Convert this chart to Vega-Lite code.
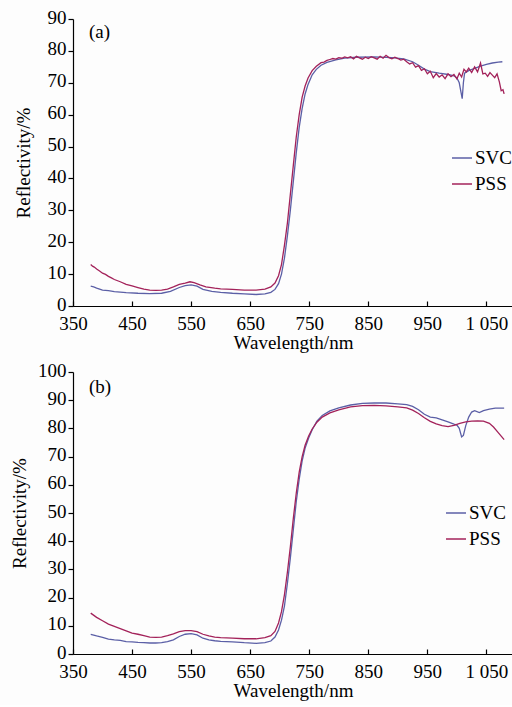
{
  "$schema": "https://vega.github.io/schema/vega-lite/v6.json",
  "background": "#fdfdfd",
  "padding": {"left": 10, "top": 8, "right": 0, "bottom": 5},
  "spacing": 9,
  "config": {
    "font": "Liberation Serif",
    "view": {"stroke": null},
    "axis": {"grid": false, "domainColor": "#000", "tickColor": "#000", "labelColor": "#000", "titleColor": "#000", "labelFontSize": 19, "titleFontSize": 19, "titleFontWeight": "normal", "labelFont": "Liberation Serif", "titleFont": "Liberation Serif", "domainWidth": 1.2, "tickWidth": 1.2, "labelOverlap": false, "labelFlush": false},
    "legend": {"labelFont": "Liberation Serif", "labelFontSize": 19, "labelColor": "#000", "symbolType": "stroke", "symbolStrokeWidth": 1.5, "symbolSize": 400, "rowPadding": 5, "labelOffset": 2}
  },
  "datasets": {
    "a": [
      {"w":380,"r":6.2,"s":"SVC"},{"w":385,"r":6.0,"s":"SVC"},{"w":390,"r":5.6,"s":"SVC"},{"w":400,"r":5.0,"s":"SVC"},{"w":410,"r":4.8,"s":"SVC"},{"w":420,"r":4.5,"s":"SVC"},{"w":440,"r":4.2,"s":"SVC"},{"w":460,"r":4.0,"s":"SVC"},{"w":480,"r":3.9,"s":"SVC"},{"w":500,"r":4.0,"s":"SVC"},{"w":515,"r":4.6,"s":"SVC"},{"w":530,"r":5.8,"s":"SVC"},{"w":540,"r":6.4,"s":"SVC"},{"w":550,"r":6.6,"s":"SVC"},{"w":560,"r":6.2,"s":"SVC"},{"w":570,"r":5.2,"s":"SVC"},{"w":585,"r":4.6,"s":"SVC"},{"w":600,"r":4.3,"s":"SVC"},{"w":620,"r":4.0,"s":"SVC"},{"w":640,"r":3.8,"s":"SVC"},{"w":660,"r":3.6,"s":"SVC"},{"w":675,"r":3.8,"s":"SVC"},{"w":685,"r":4.3,"s":"SVC"},{"w":692,"r":5.2,"s":"SVC"},{"w":698,"r":7.0,"s":"SVC"},{"w":703,"r":10,"s":"SVC"},{"w":708,"r":15,"s":"SVC"},{"w":713,"r":22,"s":"SVC"},{"w":718,"r":30,"s":"SVC"},{"w":723,"r":39,"s":"SVC"},{"w":728,"r":48,"s":"SVC"},{"w":733,"r":56,"s":"SVC"},{"w":738,"r":62,"s":"SVC"},{"w":743,"r":66.5,"s":"SVC"},{"w":748,"r":69.5,"s":"SVC"},{"w":755,"r":72.5,"s":"SVC"},{"w":762,"r":74.2,"s":"SVC"},{"w":770,"r":75.5,"s":"SVC"},{"w":780,"r":76.4,"s":"SVC"},{"w":795,"r":77.2,"s":"SVC"},{"w":810,"r":77.7,"s":"SVC"},{"w":830,"r":78,"s":"SVC"},{"w":860,"r":78.1,"s":"SVC"},{"w":890,"r":77.9,"s":"SVC"},{"w":910,"r":77.5,"s":"SVC"},{"w":925,"r":76.6,"s":"SVC"},{"w":935,"r":75.5,"s":"SVC"},{"w":945,"r":74.3,"s":"SVC"},{"w":955,"r":73.5,"s":"SVC"},{"w":970,"r":73,"s":"SVC"},{"w":985,"r":72.6,"s":"SVC"},{"w":995,"r":72.2,"s":"SVC"},{"w":1000,"r":71.5,"s":"SVC"},{"w":1004,"r":70,"s":"SVC"},{"w":1007,"r":67,"s":"SVC"},{"w":1009,"r":65,"s":"SVC"},{"w":1011,"r":70,"s":"SVC"},{"w":1013,"r":73,"s":"SVC"},{"w":1020,"r":73.8,"s":"SVC"},{"w":1030,"r":74.5,"s":"SVC"},{"w":1040,"r":75.2,"s":"SVC"},{"w":1050,"r":75.8,"s":"SVC"},{"w":1060,"r":76.2,"s":"SVC"},{"w":1070,"r":76.5,"s":"SVC"},{"w":1077,"r":76.6,"s":"SVC"},
      {"w":380,"r":13.0,"s":"PSS"},{"w":383,"r":12.5,"s":"PSS"},{"w":386,"r":12.2,"s":"PSS"},{"w":390,"r":11.6,"s":"PSS"},{"w":395,"r":11.0,"s":"PSS"},{"w":400,"r":10.3,"s":"PSS"},{"w":405,"r":9.9,"s":"PSS"},{"w":410,"r":9.3,"s":"PSS"},{"w":415,"r":8.8,"s":"PSS"},{"w":420,"r":8.3,"s":"PSS"},{"w":430,"r":7.6,"s":"PSS"},{"w":440,"r":6.8,"s":"PSS"},{"w":450,"r":6.3,"s":"PSS"},{"w":460,"r":5.8,"s":"PSS"},{"w":470,"r":5.3,"s":"PSS"},{"w":480,"r":5.0,"s":"PSS"},{"w":490,"r":4.9,"s":"PSS"},{"w":500,"r":5.0,"s":"PSS"},{"w":510,"r":5.3,"s":"PSS"},{"w":520,"r":6.0,"s":"PSS"},{"w":530,"r":6.8,"s":"PSS"},{"w":540,"r":7.2,"s":"PSS"},{"w":548,"r":7.6,"s":"PSS"},{"w":555,"r":7.3,"s":"PSS"},{"w":565,"r":6.6,"s":"PSS"},{"w":575,"r":6.0,"s":"PSS"},{"w":590,"r":5.6,"s":"PSS"},{"w":600,"r":5.4,"s":"PSS"},{"w":620,"r":5.2,"s":"PSS"},{"w":640,"r":5.0,"s":"PSS"},{"w":660,"r":5.0,"s":"PSS"},{"w":675,"r":5.3,"s":"PSS"},{"w":685,"r":6.0,"s":"PSS"},{"w":692,"r":7.2,"s":"PSS"},{"w":698,"r":9.5,"s":"PSS"},{"w":703,"r":13,"s":"PSS"},{"w":708,"r":19,"s":"PSS"},{"w":713,"r":26,"s":"PSS"},{"w":718,"r":35,"s":"PSS"},{"w":723,"r":44,"s":"PSS"},{"w":728,"r":53,"s":"PSS"},{"w":733,"r":60,"s":"PSS"},{"w":738,"r":65.5,"s":"PSS"},{"w":743,"r":69,"s":"PSS"},{"w":748,"r":71.5,"s":"PSS"},{"w":755,"r":73.8,"s":"PSS"},{"w":762,"r":75.2,"s":"PSS"},{"w":770,"r":76.3,"s":"PSS"},{"w":775,"r":76.5,"s":"PSS"},{"w":780,"r":77.0,"s":"PSS"},{"w":785,"r":77.3,"s":"PSS"},{"w":790,"r":77.6,"s":"PSS"},{"w":795,"r":77.4,"s":"PSS"},{"w":800,"r":77.9,"s":"PSS"},{"w":805,"r":77.7,"s":"PSS"},{"w":810,"r":78.1,"s":"PSS"},{"w":815,"r":77.8,"s":"PSS"},{"w":820,"r":78.2,"s":"PSS"},{"w":825,"r":77.5,"s":"PSS"},{"w":830,"r":78.3,"s":"PSS"},{"w":835,"r":77.8,"s":"PSS"},{"w":840,"r":77.4,"s":"PSS"},{"w":845,"r":78.0,"s":"PSS"},{"w":850,"r":77.6,"s":"PSS"},{"w":855,"r":78.2,"s":"PSS"},{"w":860,"r":77.8,"s":"PSS"},{"w":865,"r":77.4,"s":"PSS"},{"w":870,"r":78.3,"s":"PSS"},{"w":875,"r":77.7,"s":"PSS"},{"w":880,"r":78.6,"s":"PSS"},{"w":885,"r":77.9,"s":"PSS"},{"w":890,"r":77.5,"s":"PSS"},{"w":895,"r":78.0,"s":"PSS"},{"w":900,"r":77.6,"s":"PSS"},{"w":905,"r":77.1,"s":"PSS"},{"w":910,"r":77.4,"s":"PSS"},{"w":915,"r":76.6,"s":"PSS"},{"w":920,"r":75.9,"s":"PSS"},{"w":925,"r":76.3,"s":"PSS"},{"w":930,"r":74.9,"s":"PSS"},{"w":935,"r":75.4,"s":"PSS"},{"w":940,"r":73.9,"s":"PSS"},{"w":945,"r":74.4,"s":"PSS"},{"w":950,"r":72.8,"s":"PSS"},{"w":955,"r":73.6,"s":"PSS"},{"w":960,"r":71.6,"s":"PSS"},{"w":965,"r":72.9,"s":"PSS"},{"w":970,"r":71.8,"s":"PSS"},{"w":975,"r":72.5,"s":"PSS"},{"w":980,"r":71.3,"s":"PSS"},{"w":985,"r":72.8,"s":"PSS"},{"w":990,"r":71.9,"s":"PSS"},{"w":995,"r":72.6,"s":"PSS"},{"w":1000,"r":71.2,"s":"PSS"},{"w":1004,"r":73.0,"s":"PSS"},{"w":1008,"r":71.8,"s":"PSS"},{"w":1012,"r":74.2,"s":"PSS"},{"w":1016,"r":73.4,"s":"PSS"},{"w":1020,"r":74.6,"s":"PSS"},{"w":1025,"r":73.2,"s":"PSS"},{"w":1030,"r":75.0,"s":"PSS"},{"w":1035,"r":73.4,"s":"PSS"},{"w":1040,"r":76.2,"s":"PSS"},{"w":1044,"r":72.8,"s":"PSS"},{"w":1048,"r":73.0,"s":"PSS"},{"w":1052,"r":72.0,"s":"PSS"},{"w":1056,"r":73.2,"s":"PSS"},{"w":1060,"r":72.4,"s":"PSS"},{"w":1064,"r":71.6,"s":"PSS"},{"w":1068,"r":72.8,"s":"PSS"},{"w":1072,"r":70.2,"s":"PSS"},{"w":1075,"r":67.5,"s":"PSS"},{"w":1078,"r":67.8,"s":"PSS"},{"w":1080,"r":66.5,"s":"PSS"}
    ],
    "b": [
      {"w":380,"r":7.0,"s":"SVC"},{"w":390,"r":6.4,"s":"SVC"},{"w":400,"r":5.9,"s":"SVC"},{"w":410,"r":5.3,"s":"SVC"},{"w":420,"r":5.0,"s":"SVC"},{"w":430,"r":4.8,"s":"SVC"},{"w":440,"r":4.4,"s":"SVC"},{"w":450,"r":4.3,"s":"SVC"},{"w":460,"r":4.1,"s":"SVC"},{"w":470,"r":4.0,"s":"SVC"},{"w":480,"r":3.9,"s":"SVC"},{"w":490,"r":3.9,"s":"SVC"},{"w":500,"r":4.0,"s":"SVC"},{"w":510,"r":4.4,"s":"SVC"},{"w":520,"r":5.0,"s":"SVC"},{"w":530,"r":6.2,"s":"SVC"},{"w":540,"r":7.0,"s":"SVC"},{"w":550,"r":7.2,"s":"SVC"},{"w":560,"r":6.8,"s":"SVC"},{"w":570,"r":5.6,"s":"SVC"},{"w":580,"r":5.0,"s":"SVC"},{"w":590,"r":4.7,"s":"SVC"},{"w":600,"r":4.5,"s":"SVC"},{"w":620,"r":4.3,"s":"SVC"},{"w":640,"r":4.0,"s":"SVC"},{"w":660,"r":3.8,"s":"SVC"},{"w":675,"r":4.0,"s":"SVC"},{"w":685,"r":4.6,"s":"SVC"},{"w":692,"r":6.0,"s":"SVC"},{"w":698,"r":8.5,"s":"SVC"},{"w":703,"r":12,"s":"SVC"},{"w":708,"r":17,"s":"SVC"},{"w":713,"r":25,"s":"SVC"},{"w":718,"r":34,"s":"SVC"},{"w":723,"r":44,"s":"SVC"},{"w":728,"r":54,"s":"SVC"},{"w":733,"r":62,"s":"SVC"},{"w":738,"r":68.5,"s":"SVC"},{"w":743,"r":73,"s":"SVC"},{"w":749,"r":76.6,"s":"SVC"},{"w":755,"r":79.5,"s":"SVC"},{"w":763,"r":82.6,"s":"SVC"},{"w":772,"r":84.6,"s":"SVC"},{"w":785,"r":86.2,"s":"SVC"},{"w":800,"r":87.3,"s":"SVC"},{"w":820,"r":88.3,"s":"SVC"},{"w":840,"r":88.9,"s":"SVC"},{"w":860,"r":89.0,"s":"SVC"},{"w":880,"r":89.0,"s":"SVC"},{"w":900,"r":88.7,"s":"SVC"},{"w":915,"r":88.4,"s":"SVC"},{"w":925,"r":87.8,"s":"SVC"},{"w":935,"r":86.6,"s":"SVC"},{"w":945,"r":85.0,"s":"SVC"},{"w":955,"r":84.0,"s":"SVC"},{"w":965,"r":83.7,"s":"SVC"},{"w":975,"r":83.0,"s":"SVC"},{"w":985,"r":82.3,"s":"SVC"},{"w":995,"r":81.5,"s":"SVC"},{"w":1000,"r":81.2,"s":"SVC"},{"w":1004,"r":80.0,"s":"SVC"},{"w":1008,"r":77.0,"s":"SVC"},{"w":1011,"r":77.5,"s":"SVC"},{"w":1015,"r":81.0,"s":"SVC"},{"w":1020,"r":84.0,"s":"SVC"},{"w":1025,"r":85.8,"s":"SVC"},{"w":1030,"r":86.3,"s":"SVC"},{"w":1038,"r":85.6,"s":"SVC"},{"w":1045,"r":86.3,"s":"SVC"},{"w":1055,"r":86.8,"s":"SVC"},{"w":1065,"r":87.2,"s":"SVC"},{"w":1080,"r":87.2,"s":"SVC"},
      {"w":380,"r":14.5,"s":"PSS"},{"w":390,"r":13.0,"s":"PSS"},{"w":400,"r":11.8,"s":"PSS"},{"w":410,"r":10.6,"s":"PSS"},{"w":420,"r":9.8,"s":"PSS"},{"w":430,"r":9.0,"s":"PSS"},{"w":440,"r":8.2,"s":"PSS"},{"w":450,"r":7.4,"s":"PSS"},{"w":460,"r":7.0,"s":"PSS"},{"w":470,"r":6.5,"s":"PSS"},{"w":480,"r":6.0,"s":"PSS"},{"w":490,"r":5.9,"s":"PSS"},{"w":500,"r":6.0,"s":"PSS"},{"w":510,"r":6.5,"s":"PSS"},{"w":520,"r":7.1,"s":"PSS"},{"w":530,"r":7.9,"s":"PSS"},{"w":540,"r":8.3,"s":"PSS"},{"w":550,"r":8.3,"s":"PSS"},{"w":560,"r":7.9,"s":"PSS"},{"w":570,"r":7.0,"s":"PSS"},{"w":580,"r":6.4,"s":"PSS"},{"w":590,"r":6.0,"s":"PSS"},{"w":600,"r":5.8,"s":"PSS"},{"w":620,"r":5.6,"s":"PSS"},{"w":640,"r":5.4,"s":"PSS"},{"w":660,"r":5.4,"s":"PSS"},{"w":675,"r":5.8,"s":"PSS"},{"w":685,"r":6.5,"s":"PSS"},{"w":692,"r":8.0,"s":"PSS"},{"w":698,"r":11,"s":"PSS"},{"w":703,"r":15,"s":"PSS"},{"w":708,"r":21,"s":"PSS"},{"w":713,"r":29,"s":"PSS"},{"w":718,"r":38,"s":"PSS"},{"w":723,"r":48,"s":"PSS"},{"w":728,"r":57,"s":"PSS"},{"w":733,"r":64.5,"s":"PSS"},{"w":738,"r":70,"s":"PSS"},{"w":743,"r":74,"s":"PSS"},{"w":749,"r":77.3,"s":"PSS"},{"w":755,"r":79.8,"s":"PSS"},{"w":763,"r":82.2,"s":"PSS"},{"w":772,"r":84.0,"s":"PSS"},{"w":785,"r":85.5,"s":"PSS"},{"w":800,"r":86.6,"s":"PSS"},{"w":820,"r":87.6,"s":"PSS"},{"w":840,"r":88.1,"s":"PSS"},{"w":860,"r":88.2,"s":"PSS"},{"w":880,"r":88.0,"s":"PSS"},{"w":900,"r":87.6,"s":"PSS"},{"w":915,"r":87.3,"s":"PSS"},{"w":925,"r":86.5,"s":"PSS"},{"w":935,"r":85.3,"s":"PSS"},{"w":945,"r":83.8,"s":"PSS"},{"w":955,"r":82.5,"s":"PSS"},{"w":965,"r":81.6,"s":"PSS"},{"w":975,"r":81.0,"s":"PSS"},{"w":985,"r":80.6,"s":"PSS"},{"w":995,"r":81.1,"s":"PSS"},{"w":1005,"r":81.8,"s":"PSS"},{"w":1015,"r":82.3,"s":"PSS"},{"w":1025,"r":82.6,"s":"PSS"},{"w":1035,"r":82.7,"s":"PSS"},{"w":1045,"r":82.6,"s":"PSS"},{"w":1055,"r":81.8,"s":"PSS"},{"w":1062,"r":80.5,"s":"PSS"},{"w":1070,"r":78.5,"s":"PSS"},{"w":1080,"r":76.0,"s":"PSS"}
    ]
  },
  "vconcat": [
    {
      "width": 440,
      "height": 287,
      "encoding": {
        "x": {"field": "w", "type": "quantitative", "scale": {"domain": [350, 1095], "nice": false, "zero": false}, "axis": {"title": "Wavelength/nm", "values": [350,450,550,650,750,850,950,1050], "labelExpr": "replace(format(datum.value, ','), ',', ' ')", "tickSize": -5, "labelPadding": 13, "titlePadding": 0, "labelOverlap": false, "labelFlush": false}},
        "y": {"field": "r", "type": "quantitative", "scale": {"domain": [0, 90], "nice": false}, "axis": {"title": "Reflectivity/%", "values": [0,10,20,30,40,50,60,70,80,90], "tickSize": 5, "labelPadding": 2, "labelOffset": -2, "titlePadding": 14, "labelOverlap": false, "labelFlush": false}}
      },
      "layer": [
        {
          "data": {"name": "a"},
          "mark": {"type": "line", "strokeWidth": 1.3},
          "encoding": {
            "color": {"field": "s", "type": "nominal", "scale": {"domain": ["SVC", "PSS"], "range": ["#5b5fa6", "#a3225a"]}, "legend": {"title": null, "orient": "none", "legendX": 378, "legendY": 128}}
          }
        },
        {
          "data": {"values": [{"w": 377, "r": 86, "t": "(a)"}]},
          "mark": {"type": "text", "align": "left", "baseline": "middle", "fontSize": 19, "font": "Liberation Serif", "color": "#000"},
          "encoding": {"text": {"field": "t"}}
        }
      ]
    },
    {
      "width": 440,
      "height": 282,
      "encoding": {
        "x": {"field": "w", "type": "quantitative", "scale": {"domain": [350, 1095], "nice": false, "zero": false}, "axis": {"title": "Wavelength/nm", "values": [350,450,550,650,750,850,950,1050], "labelExpr": "replace(format(datum.value, ','), ',', ' ')", "tickSize": -5, "labelPadding": 13, "titlePadding": 0, "labelOverlap": false, "labelFlush": false}},
        "y": {"field": "r", "type": "quantitative", "scale": {"domain": [0, 100], "nice": false}, "axis": {"title": "Reflectivity/%", "values": [0,10,20,30,40,50,60,70,80,90,100], "tickSize": 5, "labelPadding": 2, "labelOffset": -2, "titlePadding": 8, "labelOverlap": false, "labelFlush": false}}
      },
      "layer": [
        {
          "data": {"name": "b"},
          "mark": {"type": "line", "strokeWidth": 1.3},
          "encoding": {
            "color": {"field": "s", "type": "nominal", "scale": {"domain": ["SVC", "PSS"], "range": ["#5b5fa6", "#a3225a"]}, "legend": {"title": null, "orient": "none", "legendX": 372, "legendY": 130}}
          }
        },
        {
          "data": {"values": [{"w": 377, "r": 94.7, "t": "(b)"}]},
          "mark": {"type": "text", "align": "left", "baseline": "middle", "fontSize": 19, "font": "Liberation Serif", "color": "#000"},
          "encoding": {"text": {"field": "t"}}
        }
      ]
    }
  ],
  "resolve": {"scale": {"color": "independent"}, "legend": {"color": "independent"}}
}
